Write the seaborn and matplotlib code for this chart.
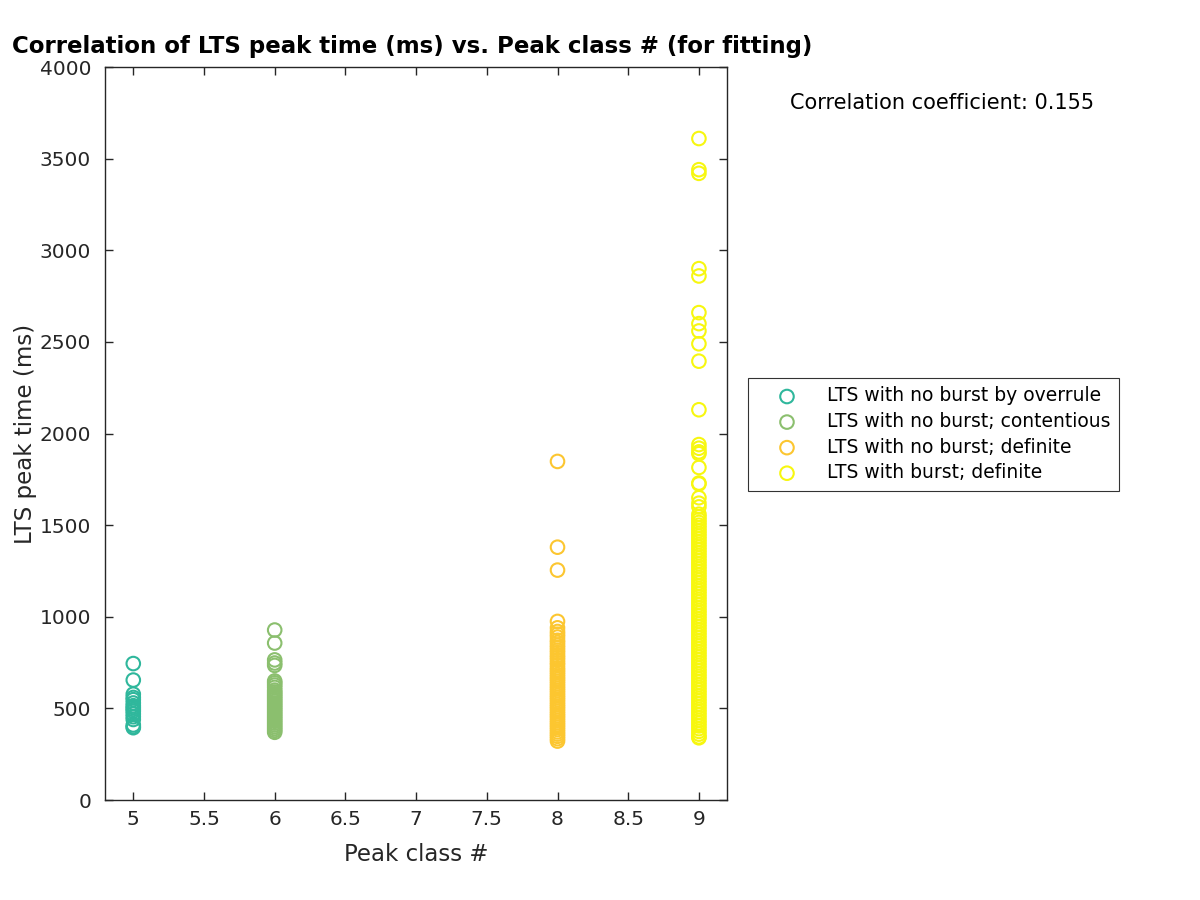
import matplotlib
matplotlib.use("Agg")
import matplotlib.pyplot as plt
import seaborn as sns
import pandas as pd

# ---- data ----
labels = ["LTS with no burst by overrule",
          "LTS with no burst; contentious",
          "LTS with no burst; definite",
          "LTS with burst; definite"]
classes = [5, 6, 8, 9]
colors = ["#2fb79c", "#8bbf6e", "#fcc630", "#f7f70f"]

class5_times = [745, 655, 578, 560, 548, 530, 515, 505, 495, 485, 470, 455,
                440, 410, 400, 395]
class6_times = [928, 857, 765, 748, 735, 650, 640, 628, 615, 600, 590, 580,
                570, 560, 550, 540, 530, 520, 510, 500, 490, 480, 470, 460,
                450, 440, 430, 420, 410, 400, 390, 380, 370]
class8_times = [1848, 1380, 1255, 975, 940, 920, 905, 890, 872, 860, 845, 832,
                818, 805, 790, 778, 765, 750, 738, 722, 710, 698, 685, 672,
                660, 648, 635, 622, 610, 598, 585, 572, 560, 548, 535, 522,
                510, 498, 485, 472, 460, 448, 435, 422, 410, 398, 385, 372,
                360, 348, 335, 322]
class9_times = [3610, 3440, 3420, 2900, 2860, 2660, 2600, 2560, 2490, 2395,
                2130, 1940, 1920, 1900, 1890, 1815, 1730, 1725, 1650, 1620,
                1600, 1560, 1545, 1530, 1515, 1500, 1485, 1470, 1455, 1440,
                1425, 1410, 1395, 1380, 1365, 1350, 1335, 1320, 1305, 1290,
                1275, 1260, 1245, 1230, 1215, 1200, 1185, 1170, 1155, 1140,
                1125, 1110, 1095, 1080, 1065, 1050, 1035, 1020, 1005, 990,
                975, 960, 945, 930, 915, 900, 885, 870, 855, 840, 825, 810,
                795, 780, 765, 750, 735, 720, 705, 690, 675, 660, 645, 630,
                615, 600, 585, 570, 555, 540, 525, 510, 495, 480, 465, 450,
                435, 420, 405, 390, 375, 360, 345, 340]
all_times = [class5_times, class6_times, class8_times, class9_times]
corr_text = "Correlation coefficient: 0.155"

sns.set_style("ticks")
plt.rcParams['font.family'] = ['DejaVu Sans']

fig = plt.figure(figsize=(12, 9), dpi=100)
ax = fig.add_axes([0.0875, 0.111, 0.5185, 0.8145])

for cls, times, col, lab in zip(classes, all_times, colors, labels):
    df = pd.DataFrame({"cls": [cls] * len(times), "t": times})
    sns.scatterplot(data=df, x="cls", y="t", ax=ax, s=95, marker="o",
                    legend=False, zorder=3)
    coll = ax.collections[-1]
    coll.set_facecolor("none")
    coll.set_edgecolor(col)
    coll.set_linewidth(1.5)
    coll.set_label(lab)

ax.set_xlim(4.8, 9.2)
ax.set_ylim(0, 4000)
ax.set_xticks([5, 5.5, 6, 6.5, 7, 7.5, 8, 8.5, 9])
ax.set_xticklabels(["5", "5.5", "6", "6.5", "7", "7.5", "8", "8.5", "9"])
ax.set_yticks(range(0, 4001, 500))
ax.tick_params(direction="in", length=6, width=1, top=True, right=True,
               labelsize=14.5, colors="#262626")
ax.tick_params(axis="y", pad=10)
ax.tick_params(axis="x", pad=7)
for sp in ax.spines.values():
    sp.set_visible(True)
    sp.set_color("#262626")
    sp.set_linewidth(1)

ax.set_xlabel("Peak class #", fontsize=16.5, color="#262626", labelpad=10)
ax.set_ylabel("LTS peak time (ms)", fontsize=16.5, color="#262626", labelpad=2)

fig.text(0.01, 0.948, "Correlation of LTS peak time (ms) vs. Peak class # (for fitting)",
         fontsize=16.5, fontweight="bold", ha="left", va="center", color="black")
fig.text(0.658, 0.8856, corr_text, fontsize=15, ha="left", va="center",
         color="black")

leg = ax.legend(loc="upper left", bbox_to_anchor=(0.623, 0.58),
                bbox_transform=fig.transFigure, fancybox=False, frameon=True,
                edgecolor="black", fontsize=13.5, borderpad=0.45,
                handlelength=3.3, handletextpad=0.5, borderaxespad=0,
                labelspacing=0.35, scatterpoints=1)
leg.get_frame().set_linewidth(0.8)
for t in leg.get_texts():
    t.set_color("black")

fig.savefig("out.png", dpi=100)
